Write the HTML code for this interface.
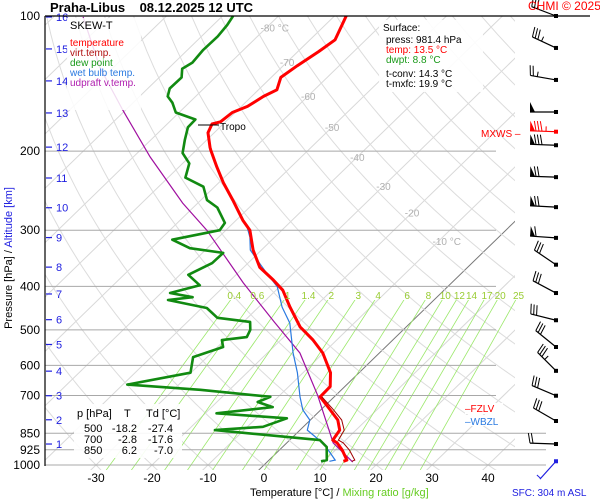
<!DOCTYPE html>
<html><head><meta charset="utf-8">
<style>
html,body{margin:0;padding:0;background:#fff;}
svg{display:block;font-family:"Liberation Sans",sans-serif;}
</style></head>
<body>
<svg id="chart" width="600" height="500" viewBox="0 0 600 500" xmlns="http://www.w3.org/2000/svg">
<defs>
<clipPath id="plotclip"><rect x="45" y="16" width="470" height="454"/></clipPath>
<clipPath id="mixclip"><rect x="45" y="300" width="500" height="170"/></clipPath>
</defs>
<rect x="0" y="0" width="600" height="500" fill="#fff"/>
<g id="grid" clip-path="url(#plotclip)"></g>
<g id="mixgrid" clip-path="url(#mixclip)"></g>
<g id="plines"></g>
<g id="series"></g>
<g id="labels"></g>
<g id="winds"></g>

<text x="50" y="12" font-size="13" font-weight="bold">Praha-Libus&#160;&#160;&#160;&#160;08.12.2025 12 UTC</text>
<text x="528" y="10" font-size="12" fill="#f00">CHMI © 2025</text>
<line x1="45" y1="16" x2="590" y2="16" stroke="#000" stroke-width="1.2"/>
<line x1="45" y1="16" x2="45" y2="466" stroke="#000" stroke-width="1.2"/>

<g>
<rect x="67" y="18" width="74" height="92" fill="#fff" opacity="0.85"/>
<text x="70" y="29" font-size="11">SKEW-T</text>
<text x="70" y="46" font-size="10" fill="#f00">temperature</text>
<text x="70" y="56" font-size="10" fill="#b01010">virt.temp.</text>
<text x="70" y="66" font-size="10" fill="#1a9a1a">dew point</text>
<text x="70" y="76" font-size="10" fill="#2a7ae0">wet bulb temp.</text>
<text x="70" y="86" font-size="10" fill="#b020b0">udpraft v.temp.</text>
</g>

<g>
<rect x="379" y="20" width="104" height="72" fill="#fff" opacity="0.9"/>
<text x="383" y="31" font-size="10">Surface:</text>
<text x="386" y="43" font-size="10">press: 981.4 hPa</text>
<text x="386" y="53" font-size="10" fill="#f00">temp: 13.5 °C</text>
<text x="386" y="63" font-size="10" fill="#1a9a1a">dwpt: 8.8 °C</text>
<text x="386" y="77" font-size="10">t-conv: 14.3 °C</text>
<text x="386" y="87" font-size="10">t-mxfc: 19.9 °C</text>
</g>

<g font-size="11">
<rect x="74" y="404" width="108" height="54" fill="#fff" opacity="0.9"/>
<text x="77" y="417">p [hPa]</text><text x="124" y="417">T</text><text x="146" y="417">Td [°C]</text>
<text x="84" y="432">500</text><text x="137" y="432" text-anchor="end">-18.2</text><text x="173" y="432" text-anchor="end">-27.4</text>
<text x="84" y="443">700</text><text x="137" y="443" text-anchor="end">-2.8</text><text x="173" y="443" text-anchor="end">-17.6</text>
<text x="84" y="454">850</text><text x="137" y="454" text-anchor="end">6.2</text><text x="173" y="454" text-anchor="end">-7.0</text>
</g>

<g>
<line x1="198" y1="125" x2="219" y2="125" stroke="#000" stroke-width="1"/>
<text x="220" y="130" font-size="10">Tropo</text>
</g>
<text x="481" y="137" font-size="10" fill="#f00">MXWS –</text>
<g><rect x="465" y="403" width="38" height="11" fill="#fff"/><text x="465" y="412" font-size="10" fill="#f00">–FZLV</text></g>
<g><rect x="465" y="415" width="38" height="11" fill="#fff"/><text x="465" y="425" font-size="10" fill="#2a7ae0">–WBZL</text></g>

<text x="250" y="496" font-size="11">Temperature [°C]  /  <tspan fill="#66cc22">Mixing ratio [g/kg]</tspan></text>
<text transform="translate(12,258) rotate(-90)" text-anchor="middle" font-size="11">Pressure [hPa]  /  <tspan fill="#2020e0">Altitude [km]</tspan></text>
<text x="512" y="496" font-size="10" fill="#2020e0">SFC: 304 m ASL</text>
</svg>
<script>
const tempP=[100,104.7,113,120,129,137,146,151,159,164,172,174,182,196,199,217,235,257,285,300,332,363,387,408,445,493,500,527,563,623,669,705,754,794,836,880,893,926,975,981.4];
const tempT=[-67.9,-67.0,-65.5,-66.3,-67.5,-68.3,-66.7,-67.9,-68.9,-70.5,-70.9,-72.0,-71.1,-68.1,-67.4,-63.2,-59.2,-54.3,-48.8,-45.7,-41.5,-37.1,-32.4,-28.8,-24.4,-18.9,-17.9,-14.2,-10.1,-5.1,-2.6,-2.5,1.7,4.9,7.1,7.7,9.0,11.2,13.9,13.5];
const virtP=[705,754,794,836,880,893,926,975,981.4];
const virtT=[-2.2,2.3,5.6,7.9,8.7,10.1,12.5,15.3,15.0];
const dewP=[100,104.7,111,119,127,131,137,145,151,156,164,170,177,189,202,213,229,240,257,267,289,300,315,329,337,355,377,398,414,423,429,447,470,480,500,519,527,546,575,623,662,680,705,724,743,767,787,822,836,880,912,975,981.4];
const dewT=[-88.1,-87.5,-87.1,-87.2,-86.8,-87.5,-86.0,-86.1,-85.0,-83.0,-80.6,-75.8,-75.7,-73.9,-71.9,-68.8,-66.9,-62.0,-58.9,-55.7,-51.5,-51.1,-57.8,-53.1,-46.3,-46.4,-48.5,-44.5,-48.4,-43.6,-47.5,-39.1,-35.4,-28.8,-27.3,-26.6,-30.5,-29.0,-32.5,-30.1,-39.2,-25.2,-11.4,-12.7,-9.1,-18.0,-4.5,-7.2,-15.2,5.4,7.9,10.3,9.5];
const wetP=[295,311,332,349,374,401,445,483,563,623,705,754,794,836,871,893,940,975,981.4];
const wetT=[-46.8,-44.4,-42.0,-39.0,-34.8,-30.4,-25.8,-21.5,-15.4,-11.0,-6.1,-3.2,-0.1,1.3,4.5,6.5,9.6,11.8,11.0];
const parcelP=[985,893,700,563,480,393,300,261,206,162,130,100.5];
const parcelT=[15.3,8.3,-3.2,-14.2,-24.5,-37.2,-53.4,-62.7,-77.0,-90.5,-102.5,-114.7];
const pressTicks=[100,200,300,400,500,600,700,850,925,1000];
const tempTicks=[-30,-20,-10,0,10,20,30,40];
const kmTicks=[1,2,3,4,5,6,7,8,9,10,11,12,13,14,15,16];
const kmPress=[898,793,701,618,539,474.6,416,362.5,311.5,267.3,229.5,195.9,164.4,139.5,118.4,100.5];
const isoLabels=[-80,-70,-60,-50,-40,-30,-20,-10];
const isoLabelP=[106,126.6,150.6,176.7,206,239,274,317];
const mixRatios=[0.4,0.6,1,1.4,2,3,4,6,8,10,12,14,17,20,25];
const windP=[100,117.8,138.8,163.6,194,228.5,266.5,312,358,414,476,546,617,701,798,898,981];
const windDir=[291,295,280,270,272,272,273,274,304,298,284,309,315,293,300,272,222];
const windSpd=[30,35,25,50,80,70,70,60,30,30,30,30,35,30,30,20,5];
const mxwsP=[181];
const mxwsSpd=[85];

const NS='http://www.w3.org/2000/svg';
function yP(p){return 16+449*Math.log10(p/100);}
function xT(t,p){return 264+5.6*t+1.03*(465-yP(p));}
function mk(tag,attrs,parent){const e=document.createElementNS(NS,tag);for(const k in attrs)e.setAttribute(k,attrs[k]);parent.appendChild(e);return e;}
const grid=document.getElementById('grid');
const mixg=document.getElementById('mixgrid');
const plines=document.getElementById('plines');
const series=document.getElementById('series');
const labels=document.getElementById('labels');
const winds=document.getElementById('winds');

for(let t=-130;t<=50;t+=10){
  const l=mk('line',{x1:xT(t,1050),y1:yP(1050),x2:xT(t,95),y2:yP(95),stroke:t===0?'#777':'#d8d8d8','stroke-width':1},grid);
  
  
}
for(let th=-40;th<=220;th+=10){
  let d='';
  for(let p=1050;p>=95;p-=10){const T=(th+273.15)*Math.pow(p/1000,0.286)-273.15;d+=(d?'L':'M')+xT(T,p).toFixed(1)+','+yP(p).toFixed(1);}
  const a=mk('path',{d:d,fill:'none',stroke:'#dcdcdc','stroke-width':1},grid);
  
  
}
function tdFromW(w,p){const e=w*p/(622+w);const g=Math.log(e/6.112);return 243.5*g/(17.67-g);}
mixRatios.forEach(function(w){
  const l=mk('line',{x1:xT(tdFromW(w,1040),1040),y1:yP(1040),x2:xT(tdFromW(w,420),420),y2:yP(420),stroke:'#9be86a','stroke-width':0.8},mixg);
  
  
  const t=mk('text',{x:xT(tdFromW(w,418),418),y:299,'font-size':10,fill:'#99cc33','text-anchor':'middle'},labels);
  t.textContent=String(w);
  
  
});
pressTicks.forEach(function(p){
  const y=yP(p);
  if(p>100){
    const l=mk('line',{x1:45,y1:y,x2:p>=850?546:496,y2:y,stroke:'#a8a8a8','stroke-width':1},plines);
    
    
  }
  const t=mk('text',{x:40,y:y+4,'font-size':12,'text-anchor':'end'},labels);
  t.textContent=String(p);
  
  
});
tempTicks.forEach(function(t){
  const e=mk('text',{x:xT(t,1000),y:482,'font-size':12,'text-anchor':'middle'},labels);
  e.textContent=String(t);
  
  
});
kmTicks.forEach(function(k,i){
  const y=yP(kmPress[i]);
  const l=mk('line',{x1:46,y1:y,x2:52,y2:y,stroke:'#2020e0','stroke-width':1.2},labels);
  
  
  const t=mk('text',{x:56,y:y+4,'font-size':11,fill:'#2020e0'},labels);
  t.textContent=String(k);
  
  
});
isoLabels.forEach(function(t,i){
  const e=mk('text',{x:xT(t,isoLabelP[i])+(t===-80||t===-10?8:0),y:yP(isoLabelP[i])+4,'font-size':10,fill:'#b0b0b0','text-anchor':'middle'},labels);
  e.textContent=(t===-80||t===-10)?(t+' °C'):String(t);
  
  
});
function pathOf(P,T){let d='';for(let i=0;i<P.length;i++){d+=(i?'L':'M')+xT(T[i],P[i]).toFixed(1)+','+yP(P[i]).toFixed(1);}return d;}
const par=mk('path',{d:pathOf(parcelP,parcelT),fill:'none',stroke:'#a010a0','stroke-width':1.2},series);


const wb=mk('path',{d:pathOf(wetP,wetT),fill:'none',stroke:'#2a7ae0','stroke-width':1.2},series);


const dw=mk('path',{d:pathOf(dewP,dewT),fill:'none',stroke:'#118a11','stroke-width':2.6,'stroke-linejoin':'round'},series);


const tl=mk('path',{d:pathOf(tempP,tempT),fill:'none',stroke:'#ff0000','stroke-width':3,'stroke-linejoin':'round'},series);


const vl=mk('path',{d:pathOf(virtP,virtT),fill:'none',stroke:'#a00000','stroke-width':1},series);



function barb(p,dir,spd,color,name){
  const hx=556,hy=yP(p);
  const r=dir*Math.PI/180;
  const ux=Math.sin(r),uy=-Math.cos(r);
  const L=spd<10?24:26;
  const tx=hx+ux*L,ty=hy+uy*L;
  const px=-uy,py=ux;
  const g=mk('g',{},winds);
  
  
  mk('line',{x1:hx,y1:hy,x2:tx,y2:ty,stroke:color,'stroke-width':1.2},g);
  mk('rect',{x:hx-2,y:hy-2,width:4,height:4,fill:color},g);
  let s=spd,pos=0;
  while(s>=50){
    const bx=tx-ux*pos,by=ty-uy*pos;
    mk('polygon',{points:bx+','+by+' '+(bx-ux*5)+','+(by-uy*5)+' '+(bx+px*10)+','+(by+py*10),fill:color},g);
    pos+=6;s-=50;
  }
  while(s>=10){
    const bx=tx-ux*pos,by=ty-uy*pos;
    mk('line',{x1:bx,y1:by,x2:bx+px*10+ux*2,y2:by+py*10+uy*2,stroke:color,'stroke-width':1},g);
    pos+=3;s-=10;
  }
  if(s>=5){
    const bx=tx-ux*(pos+1),by=ty-uy*(pos+1);
    mk('line',{x1:bx,y1:by,x2:bx+px*5,y2:by+py*5,stroke:color,'stroke-width':1},g);
  }
}
windP.forEach(function(p,i){barb(p,windDir[i],windSpd[i],i===windP.length-1?'#2020e0':'#000','wind-barb');});
mxwsP.forEach(function(p,i){barb(p,272,mxwsSpd[i],'#ff0000','max-wind-barb');});
</script>
</body></html>
